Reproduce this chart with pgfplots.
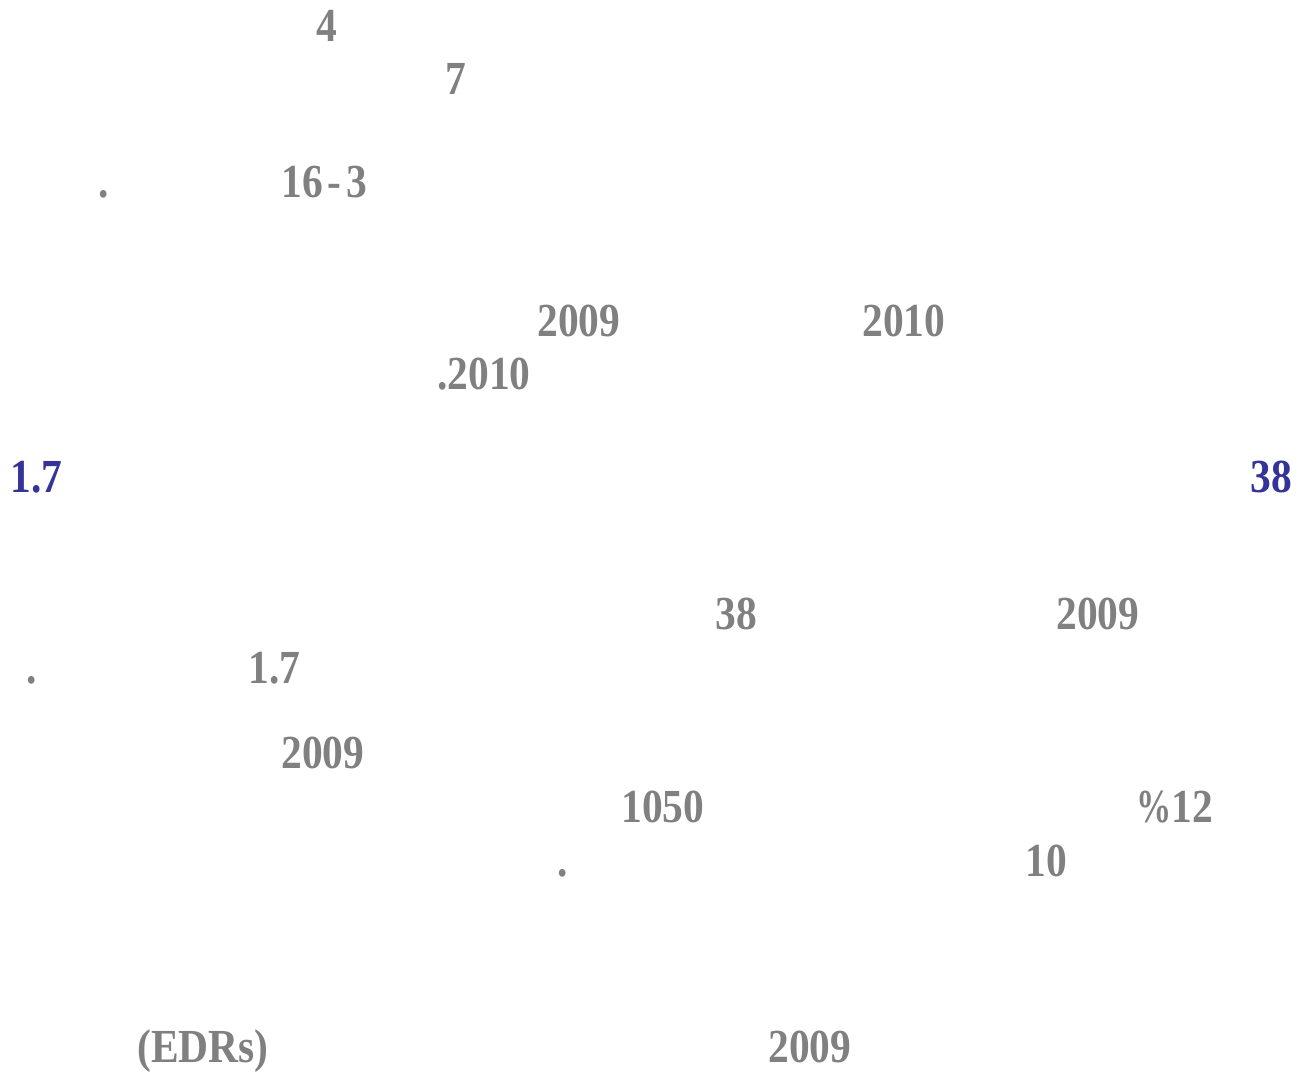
\documentclass[border=0pt]{standalone}
\usepackage{fontspec}
\setmainfont{Liberation Serif}[FakeStretch=0.875]
\usepackage{pgfplots}
\pgfplotsset{compat=1.18}
\definecolor{txtgray}{RGB}{128,128,128}
\definecolor{txtblue}{RGB}{51,51,153}
\begin{document}
\begin{tikzpicture}
\begin{axis}[
  width=653.5pt, height=537.5pt, scale only axis,
  xmin=0, xmax=1307, ymin=0, ymax=1075,
  hide axis, clip=false,
]
\path (rel axis cs:0,0) rectangle (rel axis cs:1,1);
\tikzset{t/.style={anchor=base west, inner sep=0pt, text=txtgray,
  font=\fontsize{23.7}{28}\selectfont\bfseries}}
\node[t] at (axis cs:316,{1075-42}) {4};
\node[t] at (axis cs:445,{1075-95}) {7};
\node[t] at (axis cs:98,{1075-198}) {.};
\node[t] at (axis cs:281,{1075-198}) {16\kern2.5pt-\kern2.5pt3};
\node[t] at (axis cs:537,{1075-337}) {2009};
\node[t] at (axis cs:862,{1075-337}) {2010};
\node[t] at (axis cs:437,{1075-390}) {.2010};
\node[t, text=txtblue] at (axis cs:10,{1075-493}) {1.7};
\node[t, text=txtblue] at (axis cs:1250,{1075-493}) {38};
\node[t] at (axis cs:715,{1075-630}) {38};
\node[t] at (axis cs:1056,{1075-630}) {2009};
\node[t] at (axis cs:26,{1075-683}) {.};
\node[t] at (axis cs:248,{1075-683}) {1.7};
\node[t] at (axis cs:281,{1075-768}) {2009};
\node[t] at (axis cs:621,{1075-822}) {1050};
\node[t] at (axis cs:1136,{1075-822}) {\scalebox{0.85}[1]{\%}12};
\node[t] at (axis cs:557,{1075-876}) {.};
\node[t] at (axis cs:1025,{1075-876}) {10};
\node[t] at (axis cs:137,{1075-1062}) {(EDRs)};
\node[t] at (axis cs:768,{1075-1062}) {2009};
\end{axis}
\end{tikzpicture}
\end{document}
